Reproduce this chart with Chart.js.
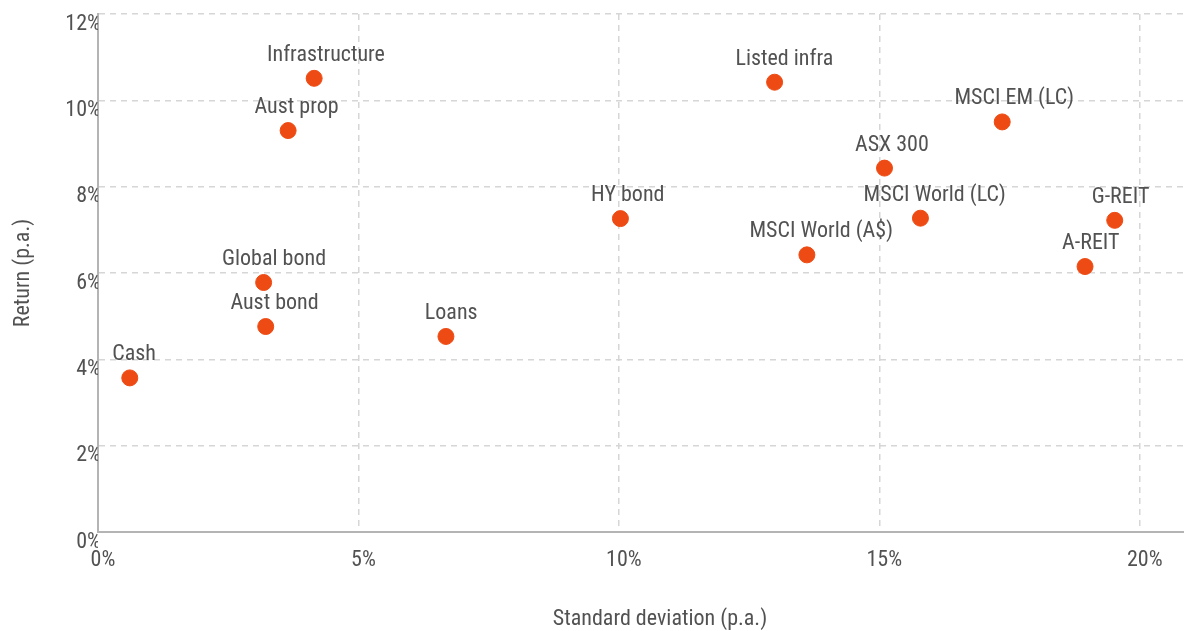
<!DOCTYPE html>
<html>
<head>
<meta charset="utf-8">
<script src="https://cdn.jsdelivr.net/npm/chart.js@4/dist/chart.umd.min.js"></script>
<style>
    html, body { margin: 0; padding: 0; background: #fff; }
    #wrap { width: 1184px; height: 631px; }
</style>
</head>
<body>
<div id="wrap"><canvas id="riskChart"></canvas></div>
<script>
// asset classes
const assets = ['Cash', 'Global bond', 'Aust bond', 'Aust prop', 'Infrastructure', 'Loans',
    'HY bond', 'Listed infra', 'MSCI World (A$)', 'ASX 300', 'MSCI World (LC)',
    'MSCI EM (LC)', 'A-REIT', 'G-REIT'];
const stdDev = [0.61, 3.18, 3.22, 3.65, 4.15, 6.68, 10.03, 12.99, 13.61, 15.10, 15.79, 17.36, 18.95, 19.52];
const returns = [3.57, 5.78, 4.76, 9.30, 10.51, 4.53, 7.26, 10.42, 6.42, 8.43, 7.27, 9.50, 6.15, 7.22];
const xTicks = [0, 5, 10, 15, 20];
const yTicks = [0, 2, 4, 6, 8, 10, 12];
const xTitle = 'Standard deviation (p.a.)';
const yTitle = 'Return (p.a.)';

const FONT = "'Liberation Sans Narrow', 'Arial Narrow', 'Roboto Condensed', 'Liberation Sans', sans-serif";
const FONT_SIZE = 22;
const TEXT = '#525252';
const DOT = '#ee4b14';
const GRID = '#d6d6d6';
const AXIS = '#b4b4b4';

document.addEventListener('DOMContentLoaded', function() {
    initializeRiskChart();
});

// asset names above the dots, plus the x axis title
// (the original plot area runs ~38px past the canvas, so the title sits right of centre)
const chartText = {
    id: 'chartText',
    afterDatasetsDraw(chart) {
        const ctx = chart.ctx;
        const meta = chart.getDatasetMeta(0);
        ctx.save();
        ctx.font = FONT_SIZE + 'px ' + FONT;
        ctx.fillStyle = TEXT;
        ctx.textAlign = 'center';
        ctx.textBaseline = 'middle';
        meta.data.forEach((pt, i) => {
            const w = ctx.measureText(assets[i]).width;
            ctx.fillText(assets[i], pt.x + w * 0.1, pt.y - 23);
        });
        const area = chart.chartArea;
        ctx.fillText(xTitle, (area.left + chart.width + 38) / 2, area.bottom + 87);
        ctx.restore();
    }
};

function gridColor(c) {
    return c.tick && c.tick.value === 0 ? 'rgba(0,0,0,0)' : GRID;
}

function initializeRiskChart() {
    const ctx = document.getElementById('riskChart').getContext('2d');
    const points = stdDev.map((x, i) => ({ x: x, y: returns[i] }));

    new Chart(ctx, {
        type: 'scatter',
        data: {
            datasets: [{
                label: 'Assets',
                data: points,
                pointRadius: 8,
                pointHoverRadius: 8,
                pointBorderWidth: 1,
                backgroundColor: DOT,
                borderColor: DOT,
                clip: false
            }]
        },
        options: {
            responsive: true,
            maintainAspectRatio: false,
            animation: false,
            layout: {
                autoPadding: false,
                padding: { top: 14, right: 0, left: 0, bottom: 0 }
            },
            plugins: {
                legend: { display: false },
                tooltip: { enabled: false }
            },
            scales: {
                x: {
                    type: 'linear',
                    min: 0,
                    max: 20.85,
                    afterBuildTicks: function(scale) {
                        scale.ticks = xTicks.map(v => ({ value: v }));
                    },
                    afterFit: function(scale) {
                        scale.height = 99;
                        scale.paddingRight = 0;
                        scale.paddingLeft = 0;
                    },
                    grid: {
                        color: gridColor,
                        lineWidth: 1.5,
                        drawTicks: false
                    },
                    border: {
                        display: true,
                        color: AXIS,
                        width: 2,
                        dash: [6, 5]
                    },
                    ticks: {
                        color: TEXT,
                        font: { family: FONT, size: FONT_SIZE },
                        padding: 15,
                        labelOffset: 5,
                        maxRotation: 0,
                        callback: function(value) { return value + '%'; }
                    },
                    title: { display: false }
                },
                y: {
                    min: 0,
                    max: 12,
                    afterBuildTicks: function(scale) {
                        scale.ticks = yTicks.map(v => ({ value: v }));
                    },
                    afterFit: function(scale) {
                        scale.width = 98;
                    },
                    grid: {
                        color: gridColor,
                        lineWidth: 1.5,
                        drawTicks: false
                    },
                    border: {
                        display: true,
                        color: AXIS,
                        width: 2,
                        dash: [6, 5]
                    },
                    ticks: {
                        color: TEXT,
                        font: { family: FONT, size: FONT_SIZE },
                        padding: -3,
                        labelOffset: 10,
                        callback: function(value) { return value + '%'; }
                    },
                    title: {
                        display: true,
                        text: yTitle,
                        color: TEXT,
                        font: { family: FONT, size: FONT_SIZE },
                        padding: { top: 10, bottom: 0 }
                    }
                }
            }
        },
        plugins: [chartText]
    });
}
</script>
</body>
</html>
